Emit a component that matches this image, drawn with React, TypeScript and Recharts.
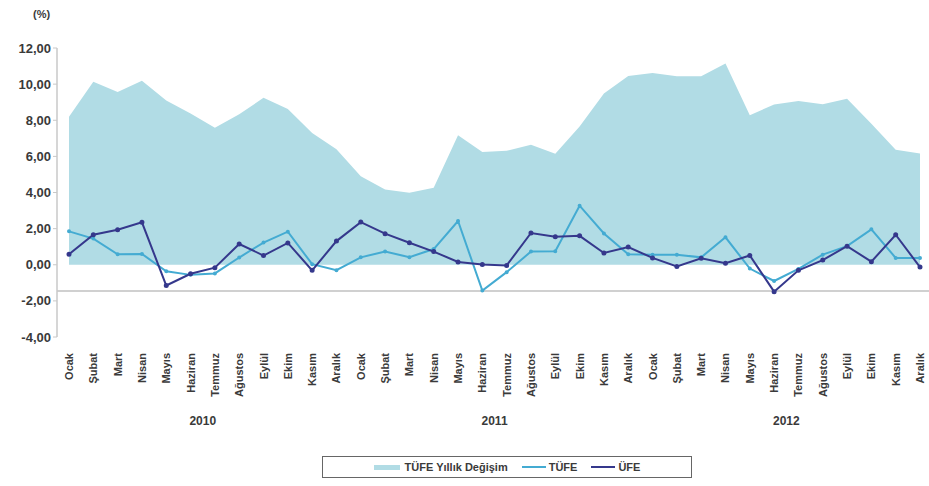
import React from "react";
import {
  ComposedChart,
  Area,
  Line,
  XAxis,
  YAxis,
  ReferenceLine,
  Legend,
} from "recharts";

const months = [
  "Ocak", "Şubat", "Mart", "Nisan", "Mayıs", "Haziran",
  "Temmuz", "Ağustos", "Eylül", "Ekim", "Kasım", "Aralık",
];
const years = ["2010", "2011", "2012"];

// annual CPI change (area)
const tufeYillik = [
  8.19, 10.13, 9.56, 10.19, 9.1, 8.37, 7.58, 8.33, 9.24, 8.62, 7.29, 6.4,
  4.9, 4.16, 3.99, 4.26, 7.17, 6.24, 6.31, 6.65, 6.15, 7.66, 9.48, 10.45,
  10.61, 10.43, 10.43, 11.14, 8.28, 8.87, 9.07, 8.88, 9.19, 7.8, 6.37, 6.16,
];
// monthly CPI
const tufe = [
  1.85, 1.45, 0.58, 0.6, -0.36, -0.56, -0.48, 0.4, 1.23, 1.83, 0.03, -0.3,
  0.41, 0.73, 0.42, 0.87, 2.42, -1.43, -0.41, 0.73, 0.75, 3.27, 1.73, 0.58,
  0.56, 0.56, 0.41, 1.52, -0.21, -0.9, -0.23, 0.56, 1.03, 1.96, 0.38, 0.38,
];
// monthly PPI
const ufe = [
  0.58, 1.66, 1.94, 2.35, -1.15, -0.5, -0.16, 1.15, 0.51, 1.21, -0.31, 1.31,
  2.36, 1.72, 1.22, 0.73, 0.15, 0.01, -0.04, 1.76, 1.55, 1.6, 0.65, 0.98,
  0.38, -0.09, 0.36, 0.08, 0.51, -1.49, -0.31, 0.26, 1.03, 0.17, 1.66, -0.13,
];
const yTicks = [-4, -2, 0, 2, 4, 6, 8, 10, 12];

const data = tufeYillik.map((v, i) => ({
  key: `${years[Math.floor(i / 12)]}-${i % 12}`,
  month: months[i % 12],
  year: years[Math.floor(i / 12)],
  yillik: v,
  tufe: tufe[i],
  ufe: ufe[i],
}));

const AREA = "#b1dce5";
const TUFE = "#44abd2";
const UFE = "#35388c";
const TEXT = "#3a3a3a";
const FONT = "'Liberation Sans', Arial, sans-serif";

const fmt = (v: number) => v.toFixed(2).replace(".", ",");

const MonthTick = (props: any) => {
  const { x, y, index } = props;
  return (
    <g transform={`translate(${x},${y + 8}) rotate(-90)`}>
      <text
        x={0}
        y={0}
        dy={4}
        textAnchor="end"
        fontSize={11}
        fontWeight="bold"
        fill={TEXT}
        fontFamily={FONT}
      >
        {data[index]?.month}
      </text>
    </g>
  );
};

const YearTick = (props: any) => {
  const { x, y, index } = props;
  if (index % 12 !== 5) return null;
  return (
    <text
      x={x + 12.2}
      y={y + 10}
      textAnchor="middle"
      fontSize={12}
      fontWeight="bold"
      fill={TEXT}
      fontFamily={FONT}
    >
      {data[index].year}
    </text>
  );
};

const LegendBox = () => (
  <div
    style={{
      border: "1px solid #666",
      height: 20,
      display: "flex",
      alignItems: "center",
      justifyContent: "center",
      gap: 14,
      fontFamily: FONT,
      fontSize: 11,
      fontWeight: "bold",
      color: TEXT,
      background: "#fff",
    }}
  >
    <span style={{ display: "flex", alignItems: "center" }}>
      <span style={{ width: 26, height: 5, background: AREA, marginRight: 5 }} />
      TÜFE Yıllık Değişim
    </span>
    <span style={{ display: "flex", alignItems: "center" }}>
      <span style={{ width: 24, height: 2, background: TUFE, marginRight: 3 }} />
      TÜFE
    </span>
    <span style={{ display: "flex", alignItems: "center" }}>
      <span style={{ width: 24, height: 2, background: UFE, marginRight: 3 }} />
      ÜFE
    </span>
  </div>
);

export default function App() {
  return (
    <div style={{ position: "absolute", left: 0, top: 0, width: 929, height: 486, background: "#fff" }}>
      <div
        style={{
          position: "absolute",
          left: 33,
          top: 8,
          fontFamily: FONT,
          fontSize: 11,
          fontWeight: "bold",
          color: TEXT,
        }}
      >
        (%)
      </div>
      <ComposedChart
        width={929}
        height={486}
        data={data}
        margin={{ top: 48, right: 0, bottom: 49, left: 0 }}
      >
        <XAxis
          dataKey="key"
          xAxisId="month"
          height={70}
          interval={0}
          axisLine={false}
          tickLine={false}
          tick={<MonthTick />}
          padding={{ left: 12, right: 9 }}
        />
        <XAxis
          dataKey="key"
          xAxisId="year"
          height={30}
          interval={0}
          axisLine={false}
          tickLine={false}
          tick={<YearTick />}
          padding={{ left: 12, right: 9 }}
        />
        <YAxis
          width={57}
          domain={[-4, 12]}
          ticks={yTicks}
          tickFormatter={fmt}
          axisLine={{ stroke: "#c8c8c8", strokeWidth: 1.5 }}
          tickLine={{ stroke: "#c8c8c8" }}
          tickSize={4}
          tick={{ fontSize: 13, fontWeight: "bold", fill: TEXT, fontFamily: FONT }}
        />
        <Area
          xAxisId="month"
          type="linear"
          dataKey="yillik"
          name="TÜFE Yıllık Değişim"
          baseValue={0}
          fill={AREA}
          fillOpacity={1}
          stroke="none"
          isAnimationActive={false}
        />
        <ReferenceLine xAxisId="month" y={-1.45} stroke="#c0c0c0" strokeWidth={1.5} />
        <Line
          xAxisId="month"
          type="linear"
          dataKey="tufe"
          name="TÜFE"
          stroke={TUFE}
          strokeWidth={2}
          dot={{ r: 1, fill: TUFE, stroke: TUFE }}
          isAnimationActive={false}
        />
        <Line
          xAxisId="month"
          type="linear"
          dataKey="ufe"
          name="ÜFE"
          stroke={UFE}
          strokeWidth={2}
          dot={{ r: 1.5, fill: UFE, stroke: UFE }}
          isAnimationActive={false}
        />
        <Legend
          layout="horizontal"
          verticalAlign="middle"
          content={<LegendBox />}
          wrapperStyle={{ position: "absolute", left: 322, top: 456, width: 370, height: 22 }}
        />
      </ComposedChart>
    </div>
  );
}
